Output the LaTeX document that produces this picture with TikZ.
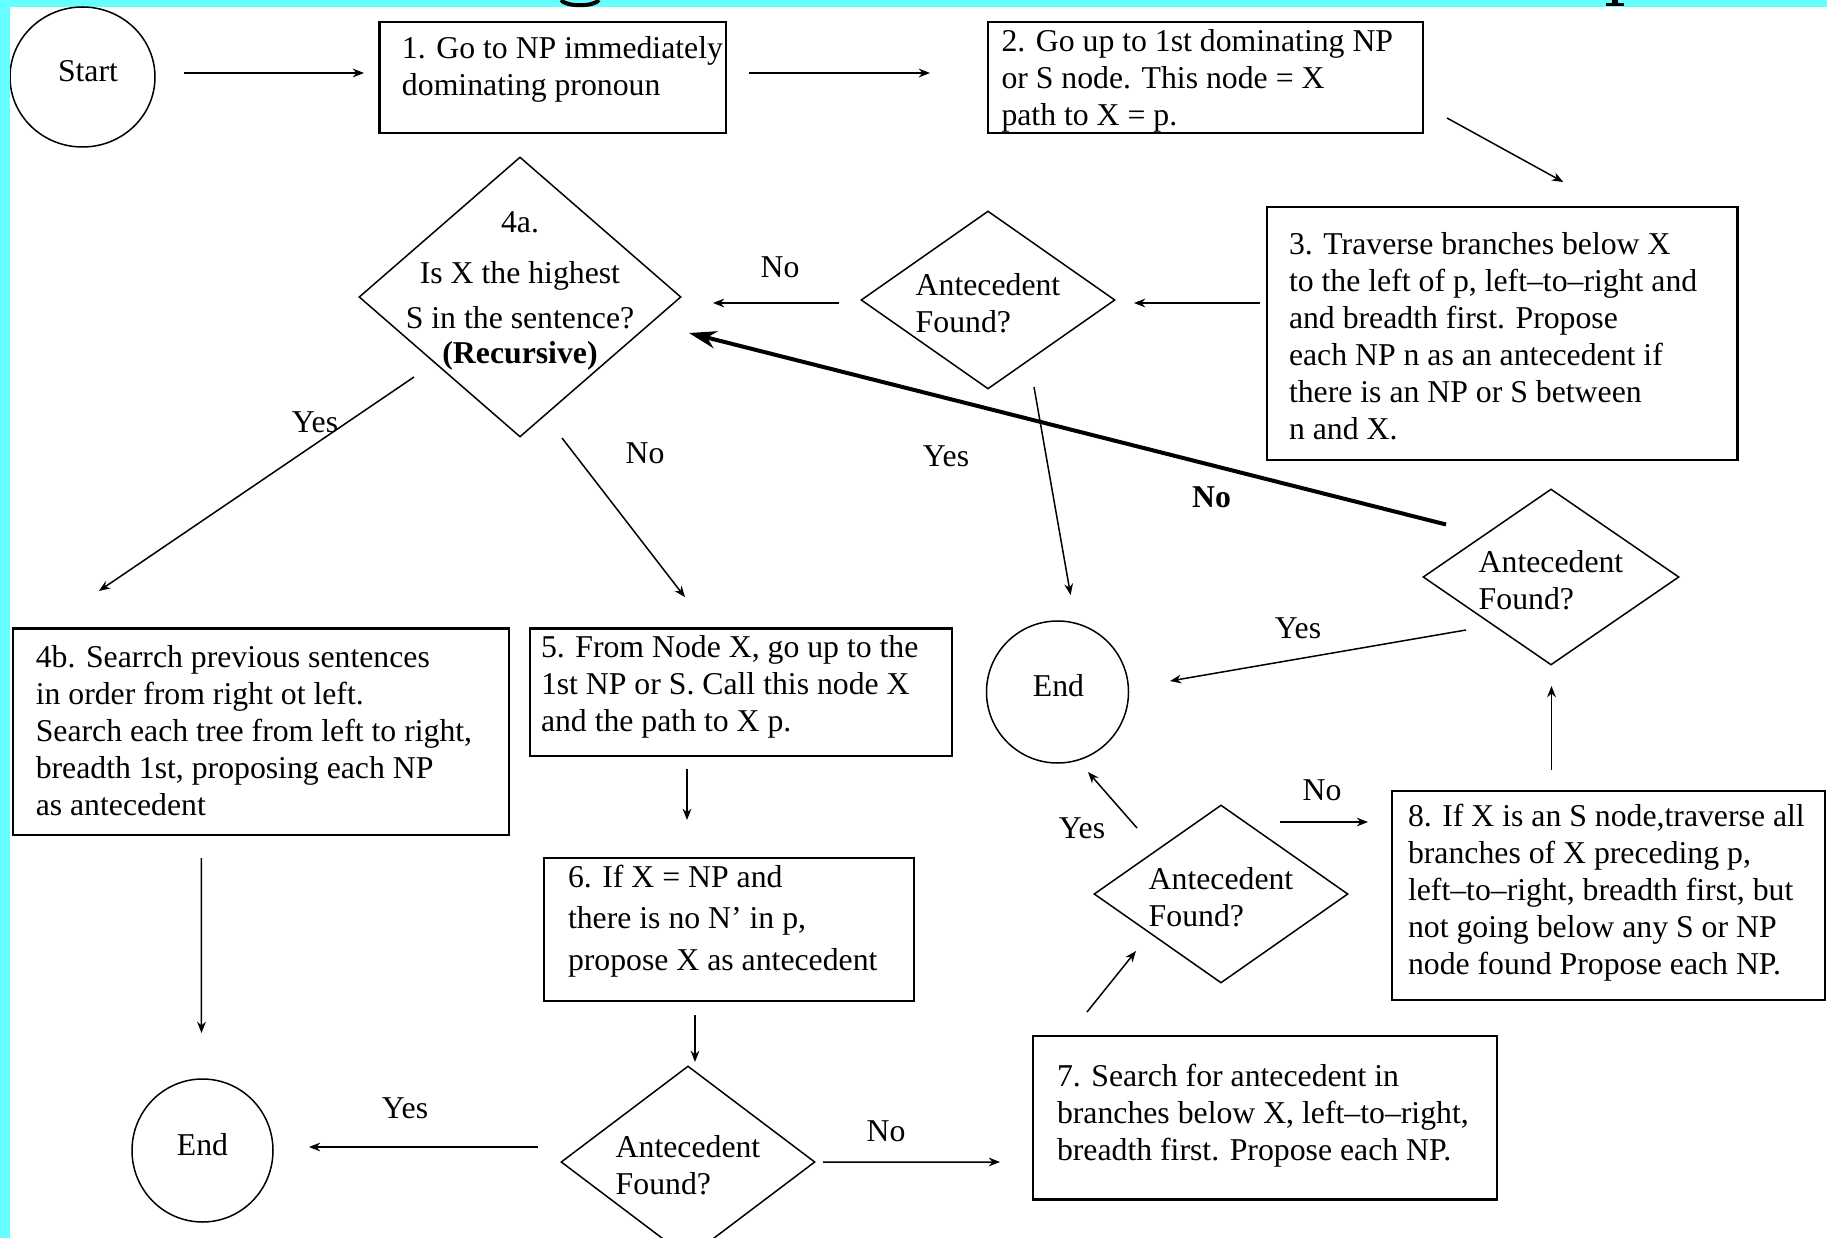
\documentclass[tikz,border=0pt]{standalone}
\usepackage{fontspec}
\setmainfont{Liberation Serif}
\usetikzlibrary{shapes.geometric,arrows.meta,calc}
\definecolor{bgcyan}{HTML}{66FFFF}
% box text: #1 width, #2 raise, #3 left pad, #4 lines
\newcommand{\btxt}[4]{\raisebox{#2}[0pt][0pt]{\makebox[#1][l]{\hspace*{#3}\parbox[c]{400pt}{\raggedright #4}}}}
% diamond text: #1 raise, #2 column alignment, #3 lines
\newcommand{\dtxt}[3]{\raisebox{#1}[0pt][0pt]{\begin{tabular}{@{}#2@{}}#3\end{tabular}}}
% terminal text: #1 horizontal shift, #2 raise, #3 word
\newcommand{\ttxt}[3]{\raisebox{#2}[0pt][0pt]{\makebox[0pt]{\hspace*{#1}#3}}}
\begin{document}
\begin{tikzpicture}[x=0.4pt,y=-0.4pt,
  font=\fontsize{12.7}{14.8}\selectfont,
  stepbox/.style={draw, line width=0.9pt, rectangle, inner sep=0pt},
  decision/.style={draw, line width=0.6pt, diamond, inner sep=0pt},
  terminal/.style={draw, line width=0.6pt, ellipse, inner sep=0pt},
  conn/.style={line width=0.6pt, -{Stealth[length=4.5pt,width=3.5pt]}},
  boldconn/.style={line width=1.6pt, -{Stealth[length=11pt,width=7pt]}},
  lab/.style={inner sep=0pt}]
\useasboundingbox (0,0) rectangle (1827,1238);
\fill[bgcyan] (0,0) rectangle (1827,1238);
\fill[white] (10,7) rectangle (1827,1238);
% descenders of the cut-off title
\draw[line width=1.6pt] (561,0) .. controls (566,7) and (594,7) .. (599,0);
\fill (1606,3.5) rectangle (1624,6.5);
\fill (1612,0) rectangle (1618,4);
\begin{scope}
\clip (10,7) rectangle (1827,1238);
% ---- nodes ----
\node[terminal, minimum width=58pt, minimum height=56pt] (start) at (82.5,77) {\ttxt{4.4pt}{-2pt}{Start}};
\node[stepbox, minimum width=138.6pt, minimum height=44.6pt] (b1) at (552.75,77.5)
  {\btxt{138.6pt}{0.2pt}{9pt}{1. Go to NP immediately\\dominating pronoun}};
\node[stepbox, minimum width=174pt, minimum height=44.4pt] (b2) at (1205.5,77.5)
  {\btxt{174pt}{-4.4pt}{5.4pt}{2. Go up to 1st dominating NP\\or S node. This node = X\\path to X = p.}};
\node[stepbox, minimum width=188.2pt, minimum height=101.2pt] (b3) at (1502.25,333.5)
  {\btxt{188.2pt}{-4pt}{8.8pt}{3. Traverse branches below X\\to the left of p, left–to–right and\\and breadth first. Propose\\each NP n as an antecedent if\\there is an NP or S between\\n and X.}};
\node[decision, minimum width=101.6pt, minimum height=71.2pt] (a1) at (988,300)
  {\dtxt{-5.6pt}{l}{Antecedent\\Found?}};
\node[decision, minimum width=128.8pt, minimum height=112pt] (d4a) at (520,297)
  {\dtxt{-0.6pt}{c}{4a.\\[5.6pt]Is X the highest\\[3.2pt]S in the sentence?\\[-0.8pt]\textbf{(Recursive)}}};
\node[stepbox, minimum width=198.5pt, minimum height=82.6pt] (b4b) at (260.9,731.75)
  {\btxt{198.5pt}{-2.4pt}{9.2pt}{4b. Searrch previous sentences\\in order from right ot left.\\Search each tree from left to right,\\breadth 1st, proposing each NP\\as antecedent}};
\node[stepbox, minimum width=168.8pt, minimum height=51pt] (b5) at (741,692.25)
  {\btxt{168.8pt}{-1pt}{4.4pt}{5. From Node X, go up to the\\1st NP or S. Call this node X\\and the path to X p.}};
\node[stepbox, minimum width=148pt, minimum height=57.2pt] (b6) at (729,929.5)
  {\btxt{148pt}{0.4pt}{9.6pt}{\baselineskip=16.6pt 6. If X = NP and\\there is no N’ in p,\\propose X as antecedent}};
\node[terminal, minimum width=56.4pt, minimum height=57.2pt] (end1) at (202.5,1150.5) {\ttxt{0pt}{-1.8pt}{End}};
\node[decision, minimum width=101.6pt, minimum height=76.8pt] (a3) at (688,1162)
  {\dtxt{-5.6pt}{l}{Antecedent\\Found?}};
\node[stepbox, minimum width=185.6pt, minimum height=65.5pt] (b7) at (1265,1117.6)
  {\btxt{185.6pt}{-2.4pt}{9.6pt}{7. Search for antecedent in\\branches below X, left–to–right,\\breadth first. Propose each NP.}};
\node[decision, minimum width=101.6pt, minimum height=71.2pt] (a4) at (1221,894)
  {\dtxt{-5.6pt}{l}{Antecedent\\Found?}};
\node[stepbox, minimum width=173.2pt, minimum height=83.6pt] (b8) at (1608.5,895.5)
  {\btxt{173.2pt}{-2pt}{6.4pt}{8. If X is an S node,traverse all\\branches of X preceding p,\\left–to–right, breadth first, but\\not going below any S or NP\\node found Propose each NP.}};
\node[decision, minimum width=102.4pt, minimum height=70.4pt] (a2) at (1551,577)
  {\dtxt{-5.6pt}{l}{Antecedent\\Found?}};
\node[terminal, minimum width=56.8pt, minimum height=56.8pt] (end2) at (1057.5,692) {\ttxt{0.8pt}{-1.8pt}{End}};
% ---- labels ----
\node[lab] (lno1) at (780,267) {No};
\node[lab] (lyes1) at (315,422) {Yes};
\node[lab] (lno2) at (645,453) {No};
\node[lab] (lyes2) at (946,456) {Yes};
\node[lab, font=\fontsize{12.7}{14.8}\selectfont\bfseries] (lnob) at (1211.5,497) {No};
\node[lab] (lyes3) at (1298,628) {Yes};
\node[lab] (lno3) at (1322,790) {No};
\node[lab] (lyes4) at (1082,828) {Yes};
\node[lab] (lyes5) at (405,1108) {Yes};
\node[lab] (lno4) at (886,1131) {No};
% ---- connectors ----
\draw[conn] ($(start)+(101.5,-4)$) -- ($(b1)+(-188.75,-4.5)$);
\draw[conn] ($(b1)+(196.25,-4.5)$) -- ($(b2)+(-275.5,-4.5)$);
\draw[conn] ($(b2)+(241.5,40.5)$) -- ($(b3)+(61,-151.5)$);
\draw[conn] ($(b3)+(-242,-30.5)$) -- ($(a1)+(146,3)$);
\draw[conn] ($(a1)+(-149,3)$) -- ($(d4a)+(193,6)$);
\draw[conn] ($(d4a)+(-106,80)$) -- ($(b4b)+(-162,-140.75)$);
\draw[conn] ($(d4a)+(42,141)$) -- ($(b5)+(-56,-95)$);
\draw[conn] ($(a1)+(46,87)$) -- ($(end2)+(13.1,-97)$);
\draw[boldconn] ($(a2)+(-105,-52.5)$) -- ($(d4a)+(169,36)$);
\draw[conn] ($(b8)+(-57,-125.5)$) -- ($(a2)+(0.5,109)$);
\draw[conn] ($(a2)+(-85,53)$) -- ($(end2)+(112.5,-11)$);
\draw[conn] ($(a4)+(-84,-66)$) -- ($(end2)+(30.5,80)$);
\draw[conn] ($(a4)+(59,-72)$) -- ($(b8)+(-240.5,-73.5)$);
\draw[conn] ($(b7)+(-178,-105.6)$) -- ($(a4)+(-85,57)$);
\draw[conn] ($(b5)+(-54,77)$) -- ($(b6)+(-42,-109.5)$);
\draw[conn] ($(b6)+(-34,85.5)$) -- ($(a3)+(7,-100)$);
\draw[conn] ($(b4b)+(-59.5,126.25)$) -- ($(end1)+(-1,-117.5)$);
\draw[conn] ($(a3)+(-150,-15)$) -- ($(end1)+(106.5,-3.5)$);
\draw[conn] ($(a3)+(135,0)$) -- ($(b7)+(-265,44.4)$);
\end{scope}
\end{tikzpicture}
\end{document}
